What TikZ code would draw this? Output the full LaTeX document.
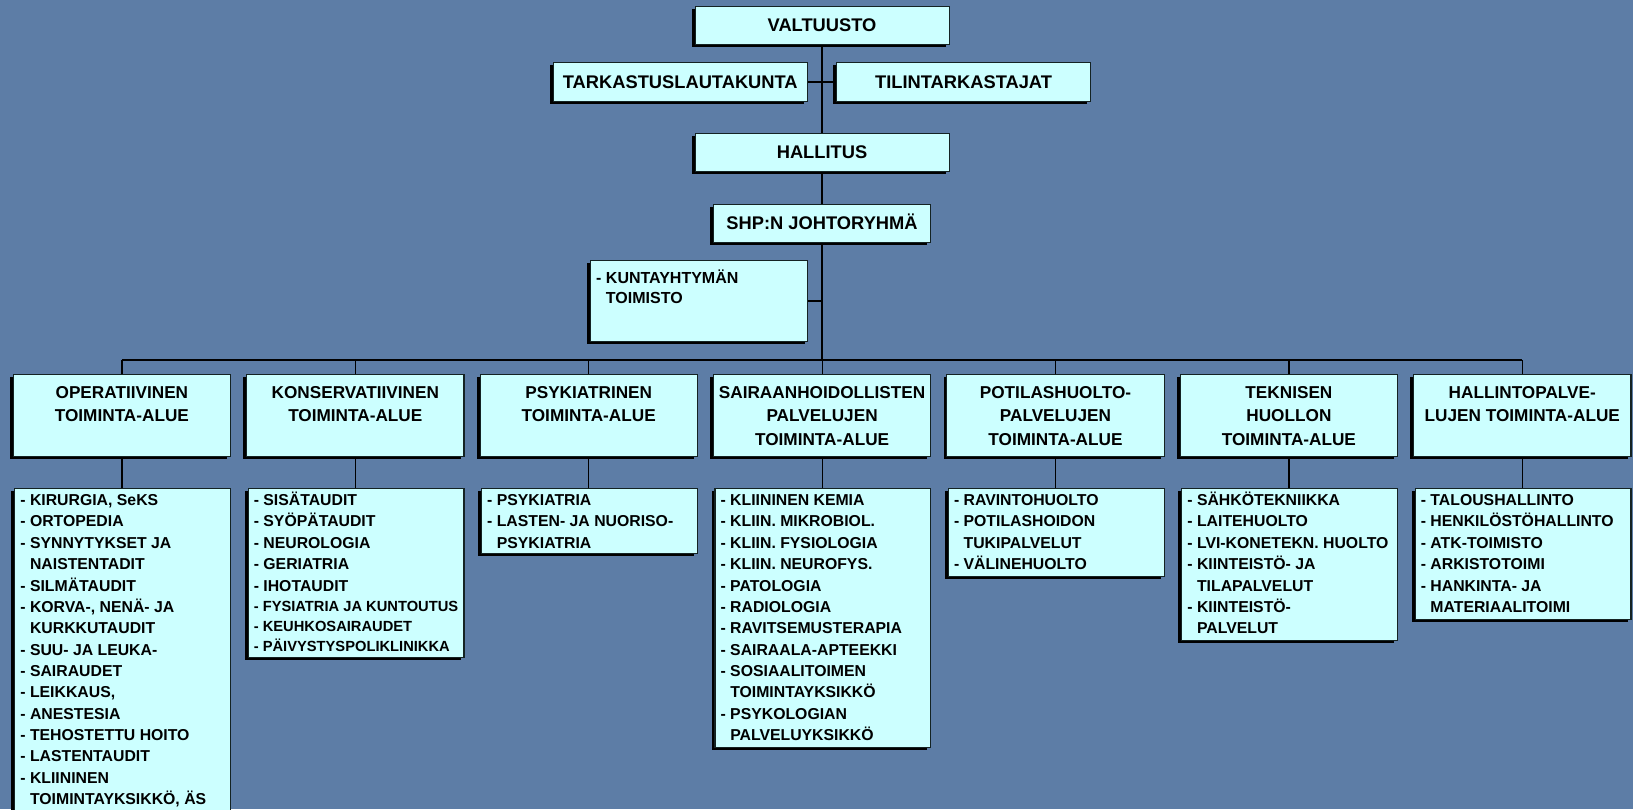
\documentclass[tikz,border=0pt]{standalone}
\usepackage{fontspec}
\setmainfont{Liberation Sans}
\definecolor{bgblue}{RGB}{93,125,166}
\definecolor{boxfill}{RGB}{204,255,255}
\definecolor{boxline}{RGB}{20,35,35}
\newcommand\ctrlines[1]{\vtop{\lineskiplimit=-100pt\halign{\hfil##\hfil\cr#1\crcr}}}
\newcommand\leftlines[1]{\vtop{\lineskiplimit=-100pt\halign{##\hfil\cr#1\crcr}}}
\newcommand\ind{\hphantom{-\ }}
% \orgbox[style]{name}{x}{y}{w}{h}{text}
\newcommand\orgbox[7][]{%
  \fill[black] ({#3-2.8},{#4+3}) rectangle ++(#5,#6);
  \node[obox,#1,minimum width=#5pt,minimum height=#6pt] (#2) at (#3,#4) {#7};}
\begin{document}
\begin{tikzpicture}[x=1pt,y=-1pt,
  obox/.style={draw=boxline,line width=1.1pt,fill=boxfill,inner sep=0pt,anchor=north west},
  conn/.style={draw=black,line width=1.2pt},
  lone/.style={font=\fontsize{18.3}{22}\selectfont\bfseries,text height=13pt,text depth=0pt},
  ltwo/.style={anchor=base,inner sep=0pt,font=\fontsize{17.2}{23.6}\selectfont\bfseries},
  lthree/.style={anchor=base west,inner sep=0pt,font=\fontsize{15.8}{21.35}\selectfont\bfseries},
  lthrees/.style={anchor=base west,inner sep=0pt,font=\fontsize{14.7}{20}\selectfont\bfseries}]
\useasboundingbox (0,0) rectangle (1633,809);
\fill[bgblue] (0,0) rectangle (1633,809);
\clip (0,0) rectangle (1633,809);
% top level
\orgbox[lone]{valt}{694.5}{5.7}{254}{38.3}{VALTUUSTO}
\orgbox[lone]{tark}{552.5}{62}{254.5}{38.7}{TARKASTUSLAUTAKUNTA}
\orgbox[lone]{tilin}{836}{62}{254}{38.7}{TILINTARKASTAJAT}
\orgbox[lone]{hall}{694.5}{132.7}{254}{38.3}{HALLITUS}
\orgbox[lone]{shp}{713}{204}{217}{37.7}{SHP:N JOHTORYHMÄ}
\orgbox{kunta}{590}{260}{217.3}{81}{}
\node[anchor=base west,inner sep=0pt,font=\fontsize{16}{20.6}\selectfont\bfseries] (kuntat) at (596,283.3)
  {\leftlines{- KUNTAYHTYMÄN\cr\ind TOIMISTO}};
% level 2 boxes
\orgbox{o1}{12.7}{374.3}{217.3}{81.7}{}
\orgbox{o2}{246.1}{374.3}{217.3}{81.7}{}
\orgbox{o3}{479.5}{374.3}{217.3}{81.7}{}
\orgbox{o4}{712.9}{374.3}{217.3}{81.7}{}
\orgbox{o5}{946.3}{374.3}{217.3}{81.7}{}
\orgbox{o6}{1179.7}{374.3}{217.3}{81.7}{}
\orgbox{o7}{1413.1}{374.3}{217.3}{81.7}{}
\node[ltwo] (o1t) at (o1.north |- 0,398.1) {\ctrlines{OPERATIIVINEN\cr TOIMINTA-ALUE}};
\node[ltwo] (o2t) at (o2.north |- 0,398.1) {\ctrlines{KONSERVATIIVINEN\cr TOIMINTA-ALUE}};
\node[ltwo] (o3t) at (o3.north |- 0,398.1) {\ctrlines{PSYKIATRINEN\cr TOIMINTA-ALUE}};
\node[ltwo] (o4t) at (o4.north |- 0,398.1) {\ctrlines{SAIRAANHOIDOLLISTEN\cr PALVELUJEN\cr TOIMINTA-ALUE}};
\node[ltwo] (o5t) at (o5.north |- 0,398.1) {\ctrlines{POTILASHUOLTO-\cr PALVELUJEN\cr TOIMINTA-ALUE}};
\node[ltwo] (o6t) at (o6.north |- 0,398.1) {\ctrlines{TEKNISEN\cr HUOLLON\cr TOIMINTA-ALUE}};
\node[ltwo] (o7t) at (o7.north |- 0,398.1) {\ctrlines{HALLINTOPALVE-\cr LUJEN TOIMINTA-ALUE}};
% level 3 boxes
\orgbox{l1}{14.2}{488.3}{215.8}{345}{}
\orgbox{l2}{247.6}{488.3}{215.8}{169}{}
\orgbox{l3}{481}{488.3}{215.8}{65}{}
\orgbox{l4}{714.4}{488.3}{215.8}{258.4}{}
\orgbox{l5}{947.8}{488.3}{215.8}{87.7}{}
\orgbox{l6}{1181.2}{488.3}{215.8}{151.7}{}
\orgbox{l7}{1414.6}{488.3}{215.8}{130.7}{}
\node[lthree] (l1t) at (20.2,505.6) {\leftlines{%
- KIRURGIA, SeKS\cr
- ORTOPEDIA\cr
- SYNNYTYKSET JA\cr
\ind NAISTENTADIT\cr
- SILMÄTAUDIT\cr
- KORVA-, NENÄ- JA\cr
\ind KURKKUTAUDIT\cr
- SUU- JA LEUKA-\cr
- SAIRAUDET\cr
- LEIKKAUS,\cr
- ANESTESIA\cr
- TEHOSTETTU HOITO\cr
- LASTENTAUDIT\cr
- KLIININEN\cr
\ind TOIMINTAYKSIKKÖ, ÄS}};
\node[lthree] (l2t) at (253.6,505.6) {\leftlines{%
- SISÄTAUDIT\cr
- SYÖPÄTAUDIT\cr
- NEUROLOGIA\cr
- GERIATRIA\cr
- IHOTAUDIT}};
\node[lthrees] (l2u) at (253.6,611.9) {\leftlines{%
- FYSIATRIA JA KUNTOUTUS\cr
- KEUHKOSAIRAUDET\cr
- PÄIVYSTYSPOLIKLINIKKA}};
\node[lthree] (l3t) at (487,505.6) {\leftlines{%
- PSYKIATRIA\cr
- LASTEN- JA NUORISO-\cr
\ind PSYKIATRIA}};
\node[lthree] (l4t) at (720.4,505.6) {\leftlines{%
- KLIININEN KEMIA\cr
- KLIIN. MIKROBIOL.\cr
- KLIIN. FYSIOLOGIA\cr
- KLIIN. NEUROFYS.\cr
- PATOLOGIA\cr
- RADIOLOGIA\cr
- RAVITSEMUSTERAPIA\cr
- SAIRAALA-APTEEKKI\cr
- SOSIAALITOIMEN\cr
\ind TOIMINTAYKSIKKÖ\cr
- PSYKOLOGIAN\cr
\ind PALVELUYKSIKKÖ}};
\node[lthree] (l5t) at (953.8,505.6) {\leftlines{%
- RAVINTOHUOLTO\cr
- POTILASHOIDON\cr
\ind TUKIPALVELUT\cr
- VÄLINEHUOLTO}};
\node[lthree] (l6t) at (1187.2,505.6) {\leftlines{%
- SÄHKÖTEKNIIKKA\cr
- LAITEHUOLTO\cr
- LVI-KONETEKN. HUOLTO\cr
- KIINTEISTÖ- JA\cr
\ind TILAPALVELUT\cr
- KIINTEISTÖ-\cr
\ind PALVELUT}};
\node[lthree] (l7t) at (1420.6,505.6) {\leftlines{%
- TALOUSHALLINTO\cr
- HENKILÖSTÖHALLINTO\cr
- ATK-TOIMISTO\cr
- ARKISTOTOIMI\cr
- HANKINTA- JA\cr
\ind MATERIAALITOIMI}};
% connectors
\coordinate (bus) at (0,360);
\draw[conn] (valt.south) -- (hall.north);
\draw[conn] (tark.east) -- (tilin.west);
\draw[conn] (hall.south) -- (shp.north);
\draw[conn] (shp.south) -- (shp.south |- bus);
\draw[conn] (kunta.east) -- (kunta.east -| shp.south);
\draw[conn] (o1.north |- bus) -- (o7.north |- bus);
\foreach \i in {1,...,7}{
  \draw[conn] (o\i.north) -- (o\i.north |- bus);
  \draw[conn] (o\i.south) -- (o\i.south |- l\i.north);
}
\end{tikzpicture}
\end{document}
